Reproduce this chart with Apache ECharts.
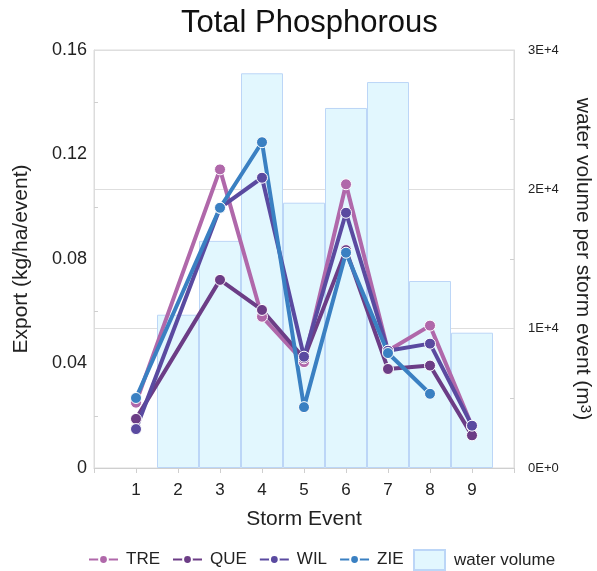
<!DOCTYPE html>
<html><head><meta charset="utf-8">
<script src="https://cdn.jsdelivr.net/npm/echarts@6/dist/echarts.min.js"></script>
<style>html,body{margin:0;padding:0;background:#fff}#c{width:597px;height:571px}</style>
</head><body><div id="c"></div>
<script>
var events = [1,2,3,4,5,6,7,8,9];
var lineEvents = [1,3,4,5,6,7,8,9];
var TRE = [0.0250,0.1143,0.0579,0.0405,0.1086,0.0449,0.0545,0.0160];
var QUE = [0.0188,0.0720,0.0605,0.0420,0.0834,0.0379,0.0392,0.0125];
var WIL = [0.0149,0.0996,0.1111,0.0426,0.0977,0.0449,0.0476,0.0162];
var ZIE = [0.0268,0.0996,0.1247,0.0233,0.0824,0.0440,0.0284,null];
var volEvents = [2,3,4,5,6,7,8,9];
var volume = [11000,16300,28330,19040,25840,27700,13420,9710];

function pairs(xs, ys){ var out=[]; for(var i=0;i<xs.length;i++){ if(ys[i]!=null) out.push([xs[i],ys[i]]);} return out; }

var colors = {TRE:'#b068aa', QUE:'#6c3d86', WIL:'#5a4aa0', ZIE:'#3a80c2'};
function lineSeries(name, data){
  return {name:name, type:'line', yAxisIndex:0, data:pairs(lineEvents,data), z:3,
    lineStyle:{width:4, color:colors[name]}, itemStyle:{color:colors[name], borderColor:'#fff', borderWidth:1},
    symbol:'circle', symbolSize:11};
}
var font = '"Liberation Sans", Arial, sans-serif';
var chart = echarts.init(document.getElementById('c'));
chart.setOption({
  animation:false,
  textStyle:{fontFamily:font},
  title:{text:'Total Phosphorous', left:176, top:3, textStyle:{fontSize:31, fontWeight:'normal', color:'#111', fontFamily:font}},
  grid:{left:94, right:83, top:50, bottom:103, show:true, borderColor:'#dcdcdc', borderWidth:1, backgroundColor:'transparent', outerBoundsMode:'none', containLabel:false},
  legend:[
    {left:83, top:546, itemWidth:29, itemHeight:11, itemGap:12, textStyle:{fontSize:17, color:'#222', fontFamily:font, padding:[0,0,0,3]},
     data:['TRE','QUE','WIL','ZIE']},
    {left:408, top:544, itemWidth:31, itemHeight:20, textStyle:{fontSize:17, color:'#222', fontFamily:font, padding:[0,0,0,4]},
     data:[{name:'water volume', icon:'rect'}]}
  ],
  xAxis:{type:'value', min:0, max:10, interval:1, name:'Storm Event', nameLocation:'middle', nameGap:41,
    nameTextStyle:{fontSize:21, color:'#222'},
    axisLine:{show:true, lineStyle:{color:'#cfcfcf'}}, axisTick:{show:true, length:5, lineStyle:{color:'#cfcfcf'}},
    splitLine:{show:false},
    axisLabel:{fontSize:17, color:'#222', margin:14, formatter:function(v){return (v>=1&&v<=9)?String(v):'';}}},
  yAxis:[
    {type:'value', min:0, max:0.16, interval:0.04, name:'Export (kg/ha/event)', nameLocation:'middle', nameGap:62,
     nameTextStyle:{fontSize:21, color:'#222'},
     axisLine:{show:true, lineStyle:{color:'#dcdcdc'}}, axisTick:{show:false, inside:true},
     minorTick:{show:true, splitNumber:2, length:4, lineStyle:{color:'#cfcfcf'}},
     splitLine:{show:false},
     axisLabel:{fontSize:18, color:'#222', margin:7, formatter:function(v){return v===0?'0':v.toFixed(2);}}},
    {type:'value', min:0, max:30000, interval:10000, position:'right', name:'water volume per storm event (m{s|3})',
     nameLocation:'middle', nameGap:58, nameRotate:-90,
     nameTextStyle:{fontSize:21, color:'#222', rich:{s:{fontSize:15, verticalAlign:'top', color:'#222', padding:[0,0,4,0]}}},
     axisLine:{show:true, lineStyle:{color:'#dcdcdc'}}, axisTick:{show:false, inside:true},
     minorTick:{show:true, splitNumber:2, length:4, lineStyle:{color:'#cfcfcf'}},
     splitLine:{show:true, lineStyle:{color:'#dedede'}},
     axisLabel:{fontSize:13, color:'#222', margin:14, formatter:function(v){return v===0?'0E+0':(v/10000)+'E+4';}}}
  ],
  series:[
    {name:'water volume', type:'bar', yAxisIndex:1, data:pairs(volEvents,volume), barWidth:42, z:1,
     itemStyle:{color:'#e2f7fe', borderColor:'#bcd6f7', borderWidth:1}},
    lineSeries('TRE',TRE), lineSeries('QUE',QUE), lineSeries('WIL',WIL), lineSeries('ZIE',ZIE)
  ]
});
</script></body></html>
